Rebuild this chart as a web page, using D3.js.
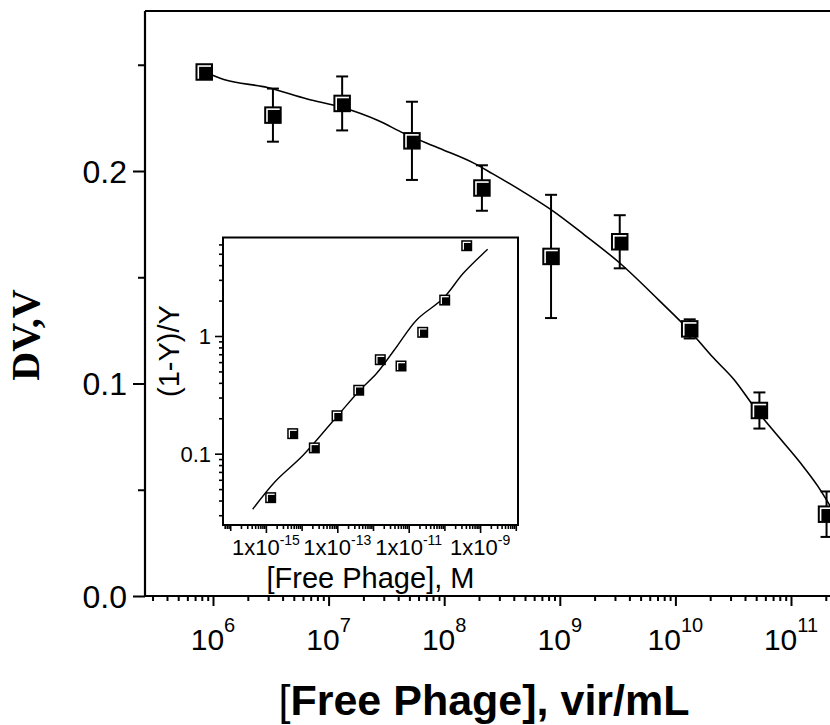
<!DOCTYPE html>
<html><head><meta charset="utf-8">
<script src="https://cdn.jsdelivr.net/npm/d3@7"></script>
<style>body{margin:0;background:#fff} svg{display:block}</style>
</head><body>
<svg id="c" width="830" height="725"></svg>
<script>
// ---------- main plot data ----------
const phageConc = [8.4e5, 3.3e6, 1.31e7, 5.26e7, 2.12e8, 8.4e8, 3.3e9, 1.33e10, 5.33e10, 2.03e11];
const deltaV    = [0.2466, 0.2263, 0.2318, 0.2142, 0.1920, 0.1598, 0.1667, 0.1257, 0.0873, 0.0385];
const deltaVErr = [0.002, 0.0125, 0.0127, 0.0184, 0.0107, 0.0290, 0.0125, 0.0045, 0.0085, 0.0107];
const fitConc = [8.47e5, 1.24e6, 2.96e6, 6.53e6, 1.32e7, 2.65e7, 4.49e7, 9.06e7, 1.82e8, 2.59e8, 4.79e8, 8.45e8,
                 1.63e9, 3.30e9, 7.26e9, 1.34e10, 2.07e10, 3.21e10, 4.98e10, 7.71e10, 1.20e11, 1.70e11, 2.18e11];
const fitDV   = [0.2466, 0.2431, 0.2393, 0.2339, 0.2299, 0.2239, 0.2177, 0.2107, 0.2036, 0.1989, 0.1903, 0.1817,
                 0.1700, 0.1567, 0.1390, 0.1246, 0.1128, 0.1019, 0.0878, 0.0753, 0.0628, 0.0518, 0.0424];
const xTickExps = [6, 7, 8, 9, 10, 11];
const yTicks = [0, 0.1, 0.2];
const yTickLabels = ["0.0", "0.1", "0.2"];
const yMinorTicks = [0.05, 0.15, 0.25];

// ---------- inset data ----------
const insetConcM = [1.36e-15, 5.64e-15, 2.27e-14, 9.82e-14, 3.98e-13, 1.60e-12, 6.09e-12, 2.47e-11, 1.02e-10, 4.22e-10];
const insetRatio = [0.0423, 0.148, 0.112, 0.210, 0.346, 0.629, 0.556, 1.075, 2.02, 5.85];
const insetFitConcM = [4.26e-16, 1.80e-15, 1.12e-14, 9.61e-14, 4.33e-13, 1.27e-12, 4.61e-12, 1.67e-11, 9.31e-11, 3.38e-10, 1.63e-9];
const insetFitRatio = [0.0337, 0.0578, 0.0975, 0.206, 0.348, 0.482, 0.811, 1.37, 2.09, 3.41, 5.45];
const insetXTickExps = [-15, -13, -11, -9];
const insetYTicks = [0.1, 1];
const insetYTickLabels = ["0.1", "1"];

const SANS = "'Liberation Sans', Arial, Helvetica, sans-serif";
const SERIF = "'Liberation Serif', 'Times New Roman', serif";
const svg = d3.select("#c");

// ---------- main scales ----------
const x = d3.scaleLog().domain([Math.pow(10, 5.4118), Math.pow(10, 11.3547)]).range([145, 832]);
const y = d3.scaleLinear().domain([0, 0.2753]).range([596, 11]);

function minorLog(lo, hi, dom) {
  const out = [];
  for (let d = lo; d <= hi; d++) for (let k = 2; k <= 9; k++) {
    const v = k * Math.pow(10, d);
    if (v >= dom[0] && v <= dom[1]) out.push(v);
  }
  return out;
}

// x ticks
const xMinor = minorLog(5, 11, x.domain());
const gxMin = svg.append("g").attr("transform", "translate(0,596)")
  .call(d3.axisBottom(x).tickValues(xMinor).tickSize(5).tickFormat(""));
const gxMaj = svg.append("g").attr("transform", "translate(0,596)")
  .call(d3.axisBottom(x).tickValues(xTickExps.map(e => Math.pow(10, e))).tickSize(10).tickFormat(""));
// y ticks
const gyMin = svg.append("g").attr("transform", "translate(145,0)")
  .call(d3.axisLeft(y).tickValues(yMinorTicks).tickSize(7).tickFormat(""));
const gyMaj = svg.append("g").attr("transform", "translate(145,0)")
  .call(d3.axisLeft(y).tickValues(yTicks).tickSize(12).tickFormat(""));
[gxMin, gxMaj, gyMin, gyMaj].forEach(g => {
  g.select(".domain").remove();
  g.selectAll("line").attr("stroke", "#000").attr("stroke-width", 2);
});

// frame
svg.append("path")
  .attr("d", `M145,11 L832,11 M145,11 L145,596 M144,596 L832,596`)
  .attr("stroke", "#000").attr("stroke-width", 2.2).attr("fill", "none");

// x tick labels
xTickExps.forEach(e => {
  const t = svg.append("text").attr("x", x(Math.pow(10, e))).attr("y", 650)
    .attr("text-anchor", "middle").attr("font-family", SANS).attr("font-size", 30).attr("fill", "#000");
  t.append("tspan").text("10");
  t.append("tspan").attr("font-size", 20).attr("dy", -18).text(e);
});
// y tick labels
yTicks.forEach((v, i) => {
  svg.append("text").attr("x", 127).attr("y", y(v)).attr("dy", "0.36em")
    .attr("text-anchor", "end").attr("font-family", SANS).attr("font-size", 32).attr("fill", "#000")
    .text(yTickLabels[i]);
});

// axis titles
const xt = svg.append("text").attr("x", 484).attr("y", 715).attr("text-anchor", "middle")
  .attr("font-family", SANS).attr("font-weight", "bold").attr("font-size", 43).attr("fill", "#000");
xt.append("tspan").attr("font-weight", "normal").text("[");
xt.append("tspan").text("Free Phage], vir/mL");
svg.append("text").attr("transform", "translate(39,335) rotate(-90)").attr("text-anchor", "middle")
  .attr("font-family", SERIF).attr("font-weight", "bold").attr("font-size", 40).attr("fill", "#000")
  .text("DV,V");

// marker helper: black square with thin white inner highlight at top-left
function marker(g, cx, cy, s, o, sw) {
  g.append("rect").attr("x", cx - s / 2).attr("y", cy - s / 2).attr("width", s).attr("height", s)
    .attr("fill", "#fff").attr("stroke", "#000").attr("stroke-width", sw);
  g.append("rect").attr("x", cx - s / 2 + o).attr("y", cy - s / 2 + o)
    .attr("width", s - o).attr("height", s - o).attr("fill", "#000");
}

// fit curve
const line = d3.line().x(d => x(d[0])).y(d => y(d[1])).curve(d3.curveMonotoneX);
svg.append("path").datum(fitConc.map((c, i) => [c, fitDV[i]]))
  .attr("d", line).attr("fill", "none").attr("stroke", "#000").attr("stroke-width", 1.6);

// error bars
const eb = svg.append("g").attr("stroke", "#000").attr("stroke-width", 2);
phageConc.forEach((c, i) => {
  const cx = x(c), y1 = y(deltaV[i] + deltaVErr[i]), y2 = y(deltaV[i] - deltaVErr[i]);
  eb.append("line").attr("x1", cx).attr("x2", cx).attr("y1", y1).attr("y2", y2);
  eb.append("line").attr("x1", cx - 6).attr("x2", cx + 6).attr("y1", y1).attr("y2", y1);
  eb.append("line").attr("x1", cx - 6).attr("x2", cx + 6).attr("y1", y2).attr("y2", y2);
});
// markers
const mg = svg.append("g");
phageConc.forEach((c, i) => marker(mg, x(c), y(deltaV[i]), 15.5, 2.6, 2));

// ---------- inset ----------
const ix = d3.scaleLog().domain([Math.pow(10, -16.202), Math.pow(10, -7.938)]).range([223, 518]);
const iy = d3.scaleLog().domain([Math.pow(10, -1.606), Math.pow(10, 0.837)]).range([525, 237.5]);

svg.append("rect").attr("x", 223).attr("y", 237.5).attr("width", 295).attr("height", 287.5)
  .attr("fill", "#fff").attr("stroke", "#000").attr("stroke-width", 2);

const ixMinor = minorLog(-17, -8, ix.domain());
const ixDecUnl = [-16, -14, -12, -10, -8].map(e => Math.pow(10, e));
const iyMinor = minorLog(-2, 0, iy.domain());
const ig = [
  svg.append("g").attr("transform", "translate(0,525)").call(d3.axisBottom(ix).tickValues(ixMinor).tickSize(4).tickFormat("")),
  svg.append("g").attr("transform", "translate(0,525)").call(d3.axisBottom(ix).tickValues(ixDecUnl).tickSize(6).tickFormat("")),
  svg.append("g").attr("transform", "translate(0,525)").call(d3.axisBottom(ix).tickValues(insetXTickExps.map(e => Math.pow(10, e))).tickSize(8).tickFormat("")),
  svg.append("g").attr("transform", "translate(223,0)").call(d3.axisLeft(iy).tickValues(iyMinor).tickSize(4).tickFormat("")),
  svg.append("g").attr("transform", "translate(223,0)").call(d3.axisLeft(iy).tickValues(insetYTicks).tickSize(8).tickFormat(""))
];
ig.forEach(g => {
  g.select(".domain").remove();
  g.selectAll("line").attr("stroke", "#000").attr("stroke-width", 1.6);
});

insetXTickExps.forEach(e => {
  const t = svg.append("text").attr("x", ix(Math.pow(10, e))).attr("y", 555)
    .attr("text-anchor", "middle").attr("font-family", SANS).attr("font-size", 22).attr("fill", "#000");
  t.append("tspan").text("1x10");
  t.append("tspan").attr("font-size", 14).attr("dy", -10).text(e);
});
insetYTicks.forEach((v, i) => {
  svg.append("text").attr("x", 211).attr("y", iy(v)).attr("dy", "0.36em")
    .attr("text-anchor", "end").attr("font-family", SANS).attr("font-size", 22).attr("fill", "#000")
    .text(insetYTickLabels[i]);
});
svg.append("text").attr("x", 370.5).attr("y", 588).attr("text-anchor", "middle")
  .attr("font-family", SANS).attr("font-size", 29).attr("fill", "#000").text("[Free Phage], M");
svg.append("text").attr("transform", "translate(179,351) rotate(-90)").attr("text-anchor", "middle")
  .attr("font-family", SANS).attr("font-size", 29).attr("fill", "#000").text("(1-Y)/Y");

const iline = d3.line().x(d => ix(d[0])).y(d => iy(d[1])).curve(d3.curveCatmullRom.alpha(0.5));
svg.append("path").datum(insetFitConcM.map((c, i) => [c, insetFitRatio[i]]))
  .attr("d", iline).attr("fill", "none").attr("stroke", "#000").attr("stroke-width", 1.4);
const img = svg.append("g");
insetConcM.forEach((c, i) => marker(img, ix(c), iy(insetRatio[i]), 9.5, 2, 1.5));
</script>
</body></html>
